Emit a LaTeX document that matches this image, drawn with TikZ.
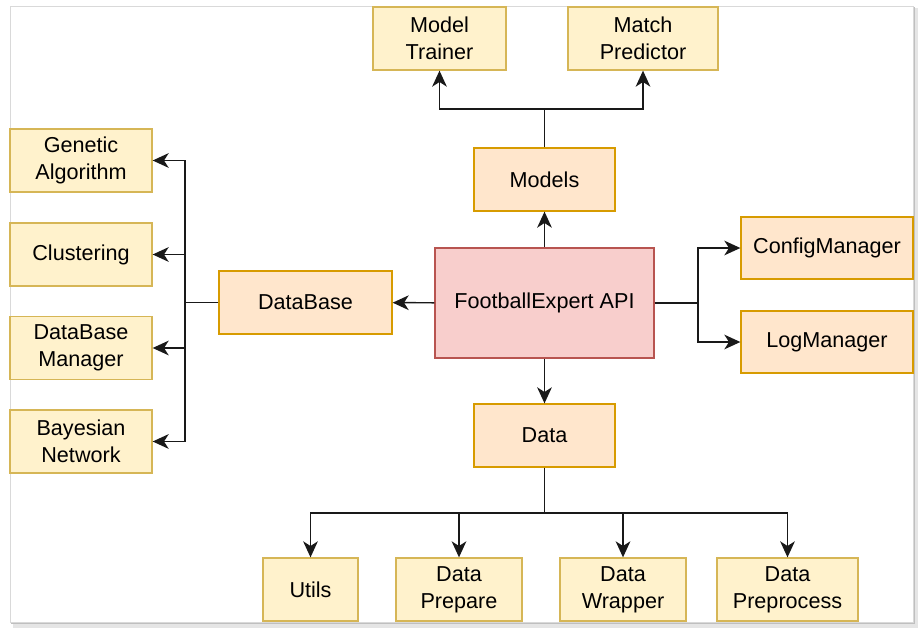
\documentclass[tikz,border=0pt]{standalone}
\usepackage{fontspec}
\setmainfont{Liberation Sans}
\usetikzlibrary{arrows.meta}

\definecolor{leaffill}{HTML}{FFF2CC}
\definecolor{leafline}{HTML}{D6B656}
\definecolor{modfill}{HTML}{FFE6CC}
\definecolor{modline}{HTML}{D79B00}
\definecolor{apifill}{HTML}{F8CECC}
\definecolor{apiline}{HTML}{B85450}

\tikzset{
	box/.style={line width=1pt, minimum height=47.25pt, align=center, inner sep=0pt,
		font=\fontsize{16.2}{20.5}\selectfont},
	leaf/.style={box, draw=leafline, fill=leaffill},
	module/.style={box, draw=modline, fill=modfill},
	core/.style={box, draw=apiline, fill=apifill},
	link/.style={line width=1.1pt, black!90},
	arr/.style={link, -{Stealth[length=12pt, width=11pt, inset=3.5pt]}}
}

\begin{document}
\begin{tikzpicture}[x=0.75pt, y=-0.75pt]
			\useasboundingbox (0,0) rectangle (924,635);
			\fill[black!10] (13,8) rectangle (918,628);
			\fill[black!25] (11,7) rectangle (915,624);
			\draw[fill=white, draw=black!15] (10,6) rectangle (913,622);

			\node[core, minimum width=164.25pt, minimum height=82.5pt] (api) at (544.5,303) {FootballExpert API};
			\node[module, minimum width=105.75pt] (mdl) at (544.5,179.5) {Models};
			\node[module, minimum width=105.75pt] (dat) at (544.5,435.5) {Data};
			\node[module, minimum width=129.75pt] (db) at (305.5,302.5) {DataBase};
			\node[module, minimum width=129pt, minimum height=46.5pt] (cfg) at (827,248) {ConfigManager};
			\node[module, minimum width=129pt, minimum height=46.5pt] (log) at (827,342) {LogManager};

			\node[leaf, minimum width=99.75pt] (trn) at (439.5,38.5) {Model\\Trainer};
			\node[leaf, minimum width=112.5pt] (prd) at (643,38.5) {Match\\Predictor};

			\node[leaf, minimum width=106.5pt] (gen) at (81,160.5) {Genetic\\Algorithm};
			\node[leaf, minimum width=106.5pt] (clu) at (81,254.5) {Clustering};
			\node[leaf, minimum width=106.5pt] (dbm) at (81,348) {DataBase\\Manager};
			\node[leaf, minimum width=106.5pt] (bay) at (81,441.5) {Bayesian\\Network};

			\node[leaf, minimum width=71.25pt] (utl) at (310.5,589.5) {Utils};
			\node[leaf, minimum width=94.5pt] (prep) at (459,589.5) {Data\\Prepare};
			\node[leaf, minimum width=94.5pt] (wrap) at (623,589.5) {Data\\Wrapper};
			\node[leaf, minimum width=105.75pt] (pproc) at (787.5,589.5) {Data\\Preprocess};

			\coordinate (mj) at (544.5,109);
			\coordinate (lj) at (185,302.5);
			\coordinate (rj) at (698,303);
			\coordinate (bj) at (544.5,513);

			\draw[arr] (api) -- (mdl);
			\draw[arr] (api) -- (db);
			\draw[arr] (api) -- (dat);

			\draw[link] (mdl) -- (mj);
			\draw[arr] (mj) -| (trn);
			\draw[arr] (mj) -| (prd);

			\draw[link] (db) -- (lj);
			\draw[arr] (lj) |- (gen);
			\draw[arr] (lj) |- (clu);
			\draw[arr] (lj) |- (dbm);
			\draw[arr] (lj) |- (bay);

			\draw[link] (api) -- (rj);
			\draw[arr] (rj) |- (cfg);
			\draw[arr] (rj) |- (log);

			\draw[link] (dat) -- (bj);
			\draw[arr] (bj) -| (utl);
			\draw[arr] (bj) -| (prep);
			\draw[arr] (bj) -| (wrap);
			\draw[arr] (bj) -| (pproc);
		\end{tikzpicture}
\end{document}
